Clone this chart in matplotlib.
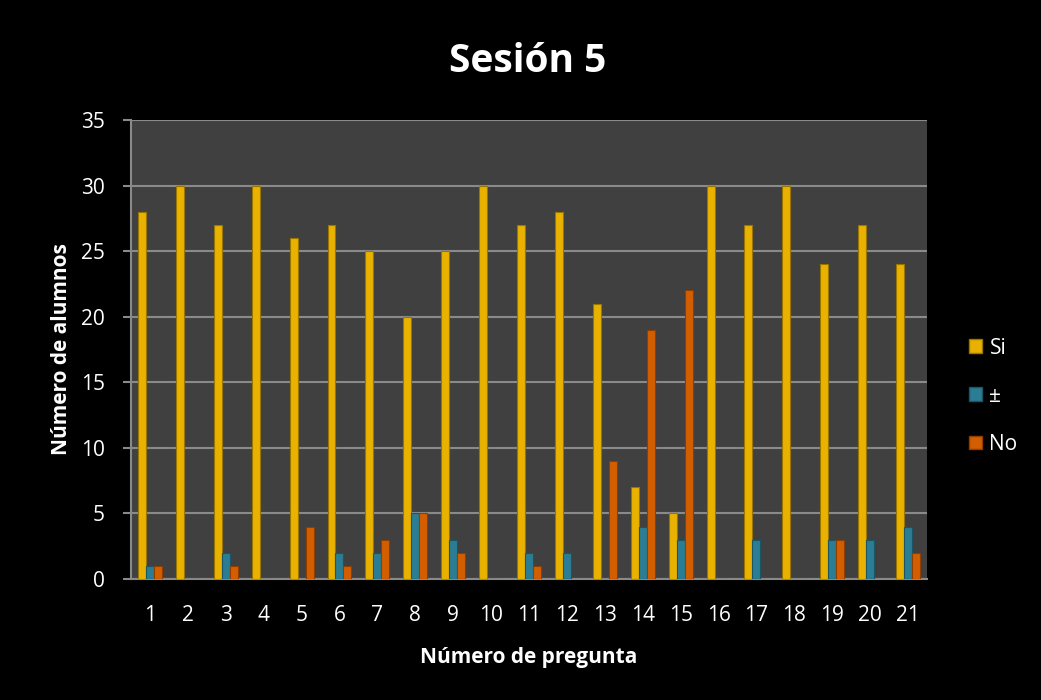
import matplotlib
matplotlib.use("Agg")
import matplotlib.pyplot as plt
import numpy as np
from matplotlib.patches import Patch

categories = [str(i) for i in range(1, 22)]
si = [28, 30, 27, 30, 26, 27, 25, 20, 25, 30, 27, 28, 21, 7, 5, 30, 27, 30, 24, 27, 24]
pm = [1, 0, 2, 0, 0, 2, 2, 5, 3, 0, 2, 2, 0, 4, 3, 0, 3, 0, 3, 3, 4]
no = [1, 0, 1, 0, 4, 1, 3, 5, 2, 0, 1, 0, 9, 19, 22, 0, 0, 0, 3, 0, 2]
series_names = ["Si", "±", "No"]
colors = ["#E9B200", "#2B7D94", "#D35E00"]
edges = ["#9A7600", "#1B5566", "#8F3E00"]

plt.rcParams['font.family'] = ['Open Sans', 'DejaVu Sans']
fig = plt.figure(figsize=(10.41, 7.0), dpi=100, facecolor='black')
ax = fig.add_axes([131 / 1041, 121 / 700, 796 / 1041, 459 / 700])
ax.set_facecolor('#404040')

x = np.arange(len(categories))
w = 0.21
for i, (vals, c, e, name) in enumerate(zip([si, pm, no], colors, edges, series_names)):
    ax.bar(x + (i - 1) * w, vals, width=w, color=c, edgecolor=e, linewidth=0.8,
           label=name, zorder=3)

ax.set_xlim(-0.5, len(categories) - 0.5)
ax.set_ylim(0, 35)
ax.set_yticks(range(0, 36, 5))
ax.set_xticks(x)
ax.set_xticklabels(categories)
ax.yaxis.grid(True, color='#8A8A8A', linewidth=1.5, zorder=0)
ax.set_axisbelow(True)
for s in ['top', 'right']:
    ax.spines[s].set_visible(False)
for s in ['left', 'bottom']:
    ax.spines[s].set_color('#8A8A8A')
    ax.spines[s].set_linewidth(1.5)
ax.tick_params(axis='both', colors='#8A8A8A', labelcolor='white', labelsize=15)
ax.tick_params(axis='y', length=6, width=1.5, pad=13)
ax.tick_params(axis='x', length=0, pad=19)

ax.set_xlabel("Número de pregunta", color='white', fontsize=15, fontweight='bold', labelpad=15)
ax.set_ylabel("Número de alumnos", color='white', fontsize=15, fontweight='bold', labelpad=6.5)
fig.text(0.507, 0.912, "Sesión 5", color='white', fontsize=28, fontweight='bold',
         ha='center', va='center')

handles = [Patch(facecolor=c, edgecolor=e) for c, e in zip(colors, edges)]
leg = fig.legend(handles, series_names, loc='center left', bbox_to_anchor=(0.9125, 0.434),
                 frameon=False, labelcolor='white', fontsize=15, handlelength=0.65,
                 handleheight=0.65, handletextpad=0.35, labelspacing=1.3)

fig.savefig("out.png", dpi=100, facecolor='black')
